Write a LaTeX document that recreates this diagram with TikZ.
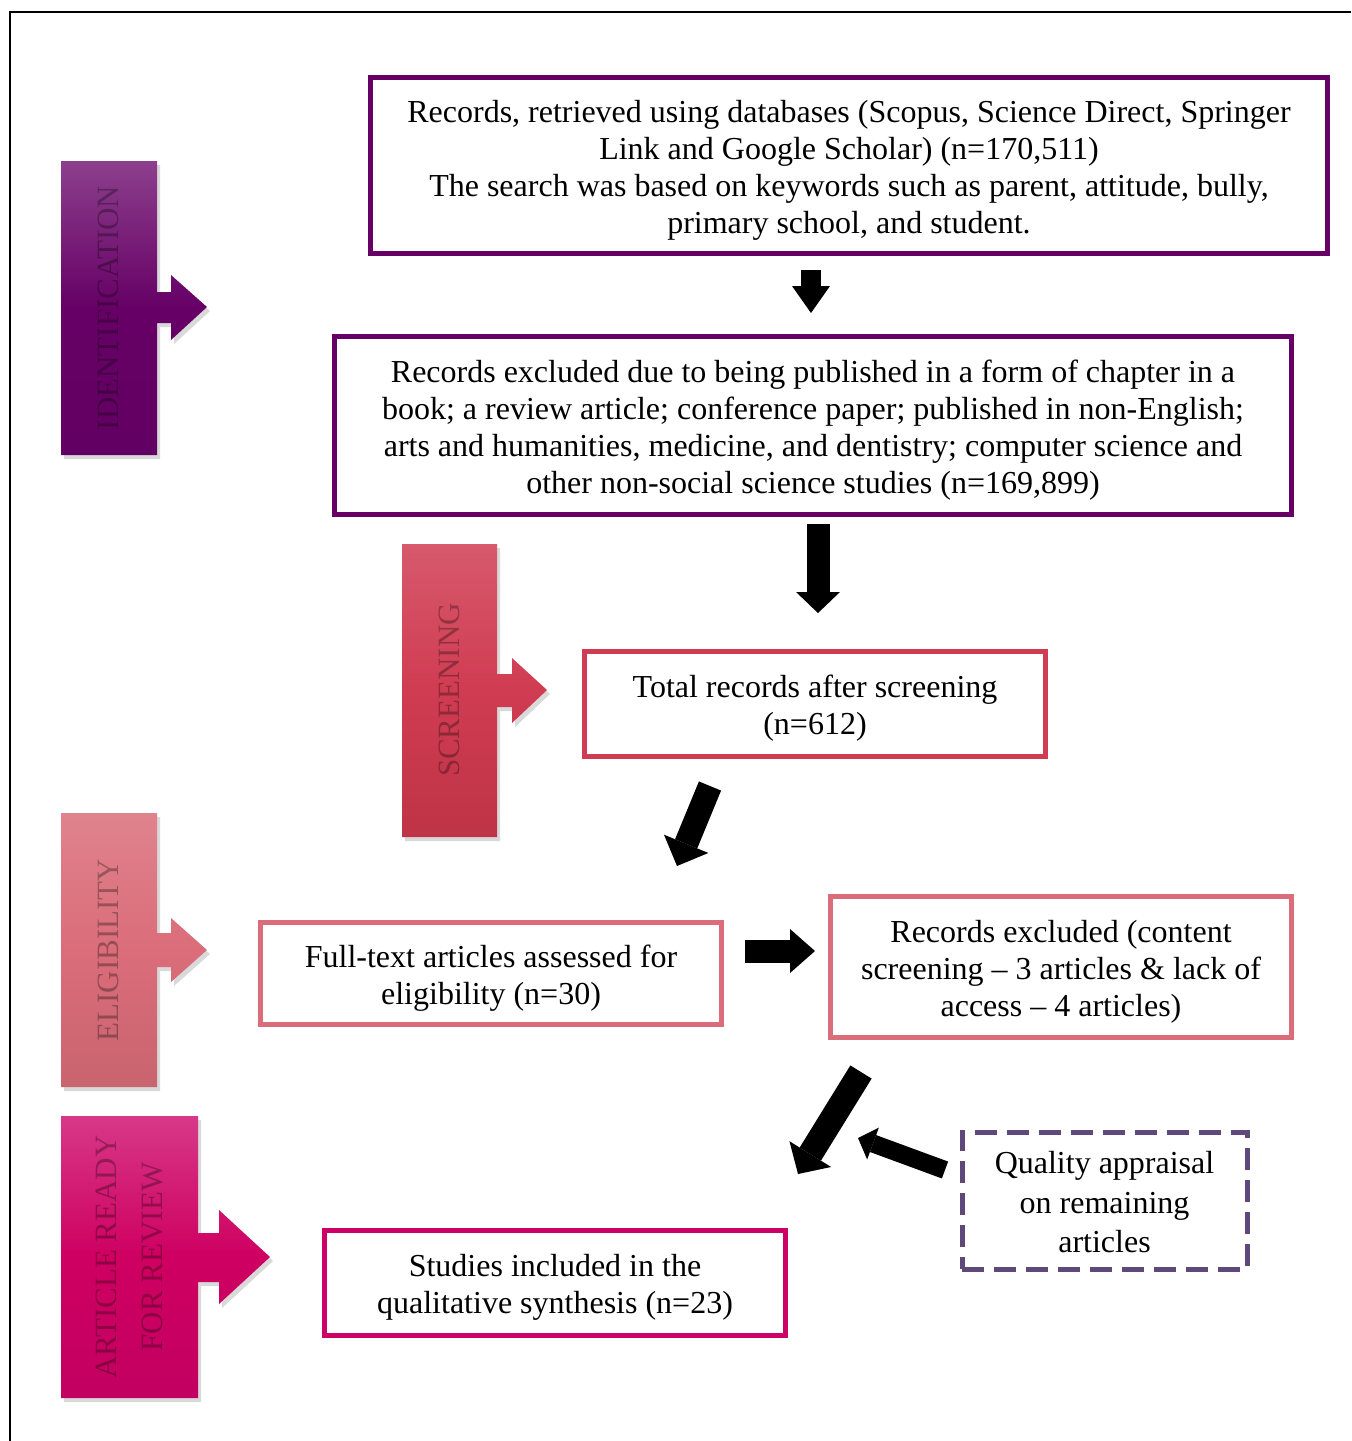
\documentclass[tikz,border=0pt]{standalone}
\usepackage{fontspec}
\setmainfont{Liberation Serif}
\usetikzlibrary{arrows.meta,shadows}
\definecolor{idpurple}{HTML}{660066}
\definecolor{scrred}{HTML}{D03C52}
\definecolor{elpink}{HTML}{DA6D79}
\definecolor{artmag}{HTML}{CC0066}
\definecolor{qualpurple}{HTML}{5F497A}
\begin{document}
\begin{tikzpicture}[x=0.5pt,y=-0.5pt,
  box/.style={draw, line width=2.5pt, inner sep=0pt},
  boxtext/.style={align=center, inner sep=0pt, font=\fontsize{16}{18.5}\selectfont},
  stagetext/.style={rotate=90, align=center, text=black, text opacity=0.3,
    font=\fontsize{15.5}{23}\selectfont},
  stageshape/.style={drop shadow={shadow xshift=1.5pt, shadow yshift=-2pt, opacity=0.3}},
  blockarrow/.style n args={3}{line width=#1,
    -{Triangle[width=#2,length=#3,line width=0pt]}, draw=black}
]
\useasboundingbox (0,0) rectangle (1351,1441);
% outer frame
\draw[line width=1pt] (10,1441) -- (10,12) -- (1351,12);

% ---- stage shapes ----
\path[stageshape, top color=idpurple!75!white, bottom color=idpurple!97!black, middle color=idpurple]
  (61,161) -- (157,161) -- (157,292) -- (171,292) -- (171,275) -- (207,307)
  -- (171,340) -- (171,323) -- (157,323) -- (157,455) -- (61,455) -- cycle;
\node[stagetext] (sid) at (108.5,308) {IDENTIFICATION};

\path[stageshape, top color=scrred!85!white, bottom color=scrred!90!black!95!red, middle color=scrred]
  (402,544) -- (497,544) -- (497,674) -- (512,674) -- (512,658) -- (547,690)
  -- (512,723) -- (512,707) -- (497,707) -- (497,837) -- (402,837) -- cycle;
\node[stagetext] (sscr) at (449.5,690) {SCREENING};

\path[stageshape, top color=elpink!85!white, bottom color=elpink!92!black, middle color=elpink]
  (61,813) -- (157,813) -- (157,933) -- (171,933) -- (171,918) -- (207,950)
  -- (171,982) -- (171,967) -- (157,967) -- (157,1087) -- (61,1087) -- cycle;
\node[stagetext] (sel) at (108.5,950) {ELIGIBILITY};

\path[stageshape, top color=artmag!78!white, bottom color=artmag!95!black, middle color=artmag!95!red]
  (61,1116) -- (198,1116) -- (198,1233) -- (219,1233) -- (219,1210) -- (270,1257)
  -- (219,1304) -- (219,1282) -- (198,1282) -- (198,1398) -- (61,1398) -- cycle;
\node[stagetext] (sart) at (129.5,1257) {ARTICLE READY\\FOR REVIEW};

% ---- boxes ----
\node[box, draw=idpurple, minimum width=478.5pt, minimum height=88pt] (b1) at (849,165.5) {};
\node[boxtext] (t1) at ([yshift=-2.5pt]b1.center)
  {Records, retrieved using databases (Scopus, Science Direct, Springer\\
   Link and Google Scholar) (n=170,511)\\
   The search was based on keywords such as parent, attitude, bully,\\
   primary school, and student.};
\node[box, draw=idpurple, minimum width=478.5pt, minimum height=89pt] (b2) at (813,425.5) {};
\node[boxtext] (t2) at ([yshift=-2.5pt]b2.center)
  {Records excluded due to being published in a form of chapter in a\\
   book; a review article; conference paper; published in non-English;\\
   arts and humanities, medicine, and dentistry; computer science and\\
   other non-social science studies (n=169,899)};
\node[box, draw=scrred, minimum width=230.5pt, minimum height=52.5pt] (b3) at (815,704) {};
\node[boxtext] (t3) at ([yshift=-2.2pt]b3.center)
  {Total records after screening\\(n=612)};
\node[box, draw=elpink, minimum width=230.5pt, minimum height=51pt] (b4) at (491,973.5) {};
\node[boxtext] (t4) at ([yshift=-2.5pt]b4.center)
  {Full-text articles assessed for\\eligibility (n=30)};
\node[box, draw=elpink, minimum width=230.5pt, minimum height=70.5pt] (b5) at (1061,967) {};
\node[boxtext] (t5) at ([yshift=-2.5pt]b5.center)
  {Records excluded (content\\screening -- 3 articles \& lack of\\access -- 4 articles)};
\node[box, draw=qualpurple, dash pattern=on 11pt off 5pt,
  minimum width=142.5pt, minimum height=68.5pt] (q) at (1104.5,1200.5) {};
\node[boxtext, font=\fontsize{16}{19.75}\selectfont] (tq) at ([yshift=-0.8pt]q.center)
  {Quality appraisal\\on remaining\\articles};
\node[box, draw=artmag, minimum width=230.5pt, minimum height=52.5pt] (b6) at (555,1283) {};
\node[boxtext] (t6) at ([yshift=-2.2pt]b6.center)
  {Studies included in the\\qualitative synthesis (n=23)};

% ---- block arrows ----
\coordinate (a1s) at (811,270);  \coordinate (a1e) at (811,313);
\coordinate (a2s) at (818,524);  \coordinate (a2e) at (818,613);
\coordinate (a3s) at (710,786);  \coordinate (a3e) at (677,866);
\coordinate (a4s) at (745,951);  \coordinate (a4e) at (815,951);
\coordinate (a5s) at (861,1072); \coordinate (a5e) at (798,1174);
\coordinate (a6s) at (945,1170); \coordinate (a6e) at (858,1138);
\draw[blockarrow={10pt}{19pt}{13.5pt}] (a1s) -- (a1e);
\draw[blockarrow={11.5pt}{22pt}{10.5pt}] (a2s) -- (a2e);
\draw[blockarrow={12pt}{24pt}{12pt}] (a3s) -- (a3e);
\draw[blockarrow={11.5pt}{22pt}{12.5pt}] (a4s) -- (a4e);
\draw[blockarrow={12.5pt}{24.5pt}{11.7pt}] (a5s) -- (a5e);
\draw[blockarrow={9pt}{17pt}{8pt}] (a6s) -- (a6e);
\end{tikzpicture}
\end{document}
